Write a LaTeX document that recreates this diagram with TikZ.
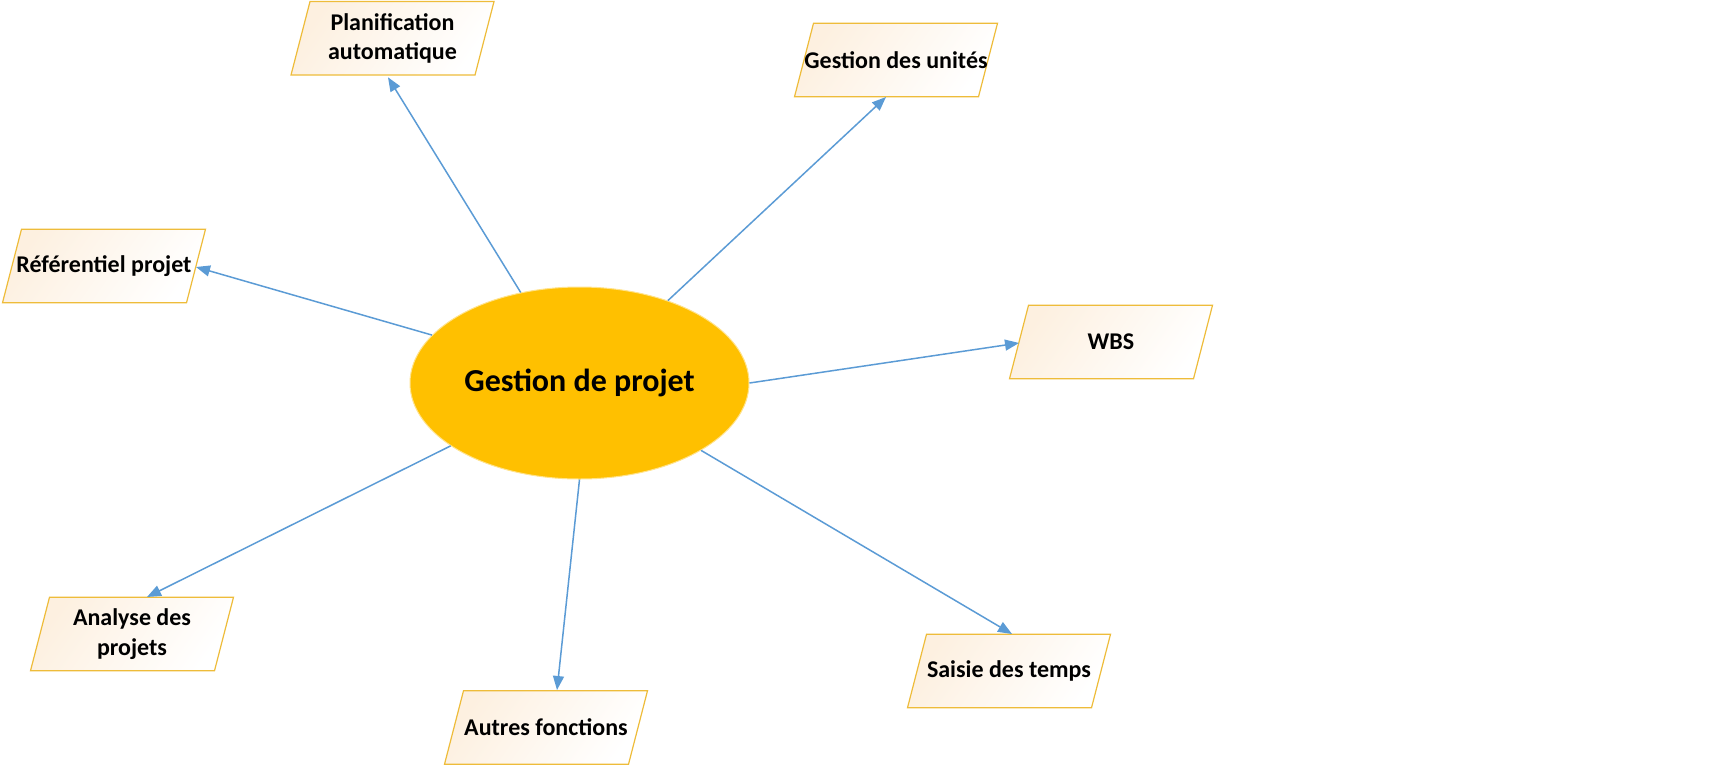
\documentclass[tikz,border=0pt]{standalone}
\usepackage{fontspec}
\setmainfont{Carlito}
\usetikzlibrary{shapes.geometric,arrows.meta,calc}
\definecolor{ellcol}{RGB}{255,192,0}
\definecolor{bordercol}{RGB}{238,188,58}
\definecolor{peach}{RGB}{253,240,224}
\definecolor{arrcol}{RGB}{91,155,213}
\tikzset{
  pshape/.style={draw=bordercol, line width=0.6pt, top color=peach, bottom color=white, shading angle=55},
  ptext/.style={shape=rectangle, inner sep=0pt, align=center, font=\fontsize{12}{14.6}\selectfont\bfseries},
  center/.style={ellipse, fill=ellcol, draw=ellcol!45!white, line width=0.5pt, minimum width=169.5pt, minimum height=96pt, inner sep=0pt, font=\fontsize{16}{19.5}\selectfont\bfseries},
  arr/.style={draw=arrcol, line width=0.75pt, -{Triangle[length=7pt,width=5.5pt]}}
}
\newcommand\pbox[4]{%
  \path[pshape] (#2-82.5,#3-36.75) -- (#2+101.5,#3-36.75) -- (#2+82.5,#3+36.75) -- (#2-101.5,#3+36.75) -- cycle;
  \node[ptext] (#1) at (#2,#3) {#4};
}
\begin{document}
\begin{tikzpicture}[x=0.5pt,y=-0.5pt]
\useasboundingbox (0,0) rectangle (1727,766);
\pbox{plan}{392.5}{38.3}{Planification\\automatique}
\pbox{ref}{104}{266}{Référentiel projet}
\pbox{unit}{896}{60}{Gestion des unités}
\pbox{wbs}{1111}{342}{WBS}
\pbox{ana}{132}{634}{Analyse des\\projets}
\pbox{autres}{546}{727.5}{Autres fonctions}
\pbox{saisie}{1009}{671}{Saisie des temps}
\node[center] (c) at (579.5,383) {Gestion de projet};
\draw[arr] (c.123.5) -- ($(plan)+(-4.5,39)$);
\draw[arr] (c.162.9) -- ($(ref)+(92,1)$);
\draw[arr] (c.43.5) -- ($(unit)+(-10,37)$);
\draw[arr] (c.0) -- ($(wbs)+(-92,1)$);
\draw[arr] (c.206.1) -- ($(ana)+(15,-37)$);
\draw[arr] (c.270) -- ($(autres)+(11,-37.5)$);
\draw[arr] (c.-29.6) -- ($(saisie)+(3,-37)$);
\end{tikzpicture}
\end{document}
